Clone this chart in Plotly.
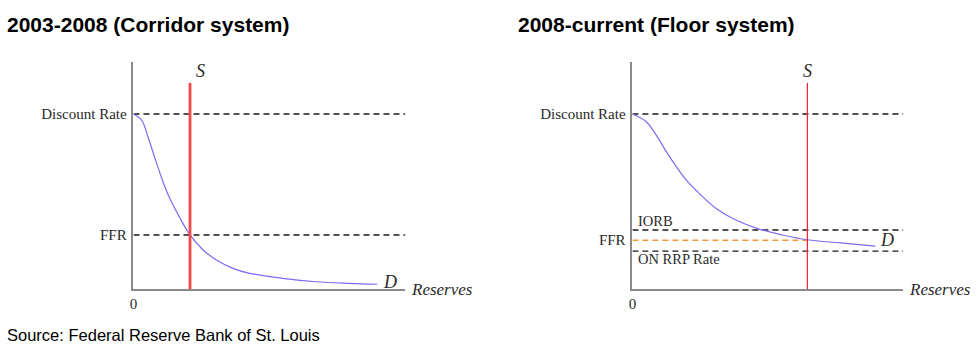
import plotly.graph_objects as go

# ---- data (arbitrary units: reserves on x, rate on y) ----
corr_demand_x = [0, 0.30, 0.55, 0.79, 1.04, 1.28, 1.65, 2.08, 2.56, 3.05, 3.66, 4.27, 5.49, 6.71, 7.94, 8.97]
corr_demand_y = [7.71, 7.44, 6.64, 5.76, 4.88, 4.14, 3.26, 2.38, 1.72, 1.28, 0.91, 0.69, 0.47, 0.32, 0.25, 0.21]
corr_supply = 2.08
corr_rates = {"Discount Rate": 7.71, "FFR": 2.38}

floor_demand_x = [0, 0.51, 0.88, 1.25, 1.62, 1.99, 2.47, 3.09, 3.82, 4.68, 5.54, 6.46, 7.68, 8.97]
floor_demand_y = [7.71, 7.37, 6.78, 6.05, 5.39, 4.80, 4.21, 3.55, 3.04, 2.64, 2.38, 2.17, 2.03, 1.89]
floor_supply = 6.46
floor_rates = {"Discount Rate": 7.71, "FFR": 2.15}
iorb = 2.60
on_rrp = 1.67

x_max = 10
supply_top = 9.07

W, H = 980, 358
def px(v):
    return v / W
def py(v):
    return 1 - v / H

SERIF = "Liberation Serif, Times New Roman, serif"
SANS = "Liberation Sans, Arial, sans-serif"
DASH_COLOR = "#1a1a1a"
DASH = "6px,4px"
CURVE_COLOR = "#7a6cf2"

fig = go.Figure()

def hline(y, x0, x1, xa, ya, color=DASH_COLOR):
    fig.add_trace(go.Scatter(x=[x0, x1], y=[y, y], mode="lines",
                             line=dict(color=color, width=1.4, dash=DASH),
                             xaxis=xa, yaxis=ya, showlegend=False, hoverinfo="skip"))

# ---------- left panel ----------
hline(corr_rates["Discount Rate"], 0, x_max, "x", "y")
hline(corr_rates["FFR"], 0, x_max, "x", "y")
fig.add_trace(go.Scatter(x=corr_demand_x, y=corr_demand_y, mode="lines",
                         line=dict(color=CURVE_COLOR, width=1.2, shape="spline", smoothing=1),
                         xaxis="x", yaxis="y", showlegend=False, hoverinfo="skip"))
fig.add_trace(go.Scatter(x=[corr_supply, corr_supply], y=[0, supply_top], mode="lines",
                         line=dict(color="#f24a4a", width=2.8),
                         xaxis="x", yaxis="y", showlegend=False, hoverinfo="skip"))

# ---------- right panel ----------
for yv in [floor_rates["Discount Rate"], iorb, on_rrp]:
    hline(yv, 0, x_max, "x2", "y2")
hline(floor_rates["FFR"], 0, floor_supply, "x2", "y2", color="#f5983a")
fig.add_trace(go.Scatter(x=floor_demand_x, y=floor_demand_y, mode="lines",
                         line=dict(color=CURVE_COLOR, width=1.2, shape="spline", smoothing=1),
                         xaxis="x2", yaxis="y2", showlegend=False, hoverinfo="skip"))
fig.add_trace(go.Scatter(x=[floor_supply, floor_supply], y=[0, supply_top], mode="lines",
                         line=dict(color="#ff1f30", width=1.2),
                         xaxis="x2", yaxis="y2", showlegend=False, hoverinfo="skip"))

axis_common = dict(showgrid=False, zeroline=False, showline=True, linecolor="#8a8a8a",
                   linewidth=1.6, ticks="outside", tickcolor="rgba(0,0,0,0)",
                   tickfont=dict(family=SERIF, size=15, color="#2a2a2a"),
                   fixedrange=True)
yd = [py(289), py(62)]
fig.update_layout(
    width=W, height=H, margin=dict(l=0, r=0, t=0, b=0),
    paper_bgcolor="white", plot_bgcolor="white",
    xaxis=dict(domain=[px(130), px(403)], range=[0, x_max], tickvals=[0], ticktext=["0"],
               anchor="y", ticklen=0, **axis_common),
    yaxis=dict(domain=yd, range=[0, 10], tickvals=list(corr_rates.values()),
               ticktext=list(corr_rates.keys()), anchor="x", ticklen=2, **axis_common),
    xaxis2=dict(domain=[px(631), px(903)], range=[0, x_max], tickvals=[0], ticktext=["0"],
                anchor="y2", ticklen=0, **axis_common),
    yaxis2=dict(domain=yd, range=[0, 10], tickvals=list(floor_rates.values()),
                ticktext=list(floor_rates.keys()), anchor="x2", ticklen=2, **axis_common),
)

def ann(text, x, y, xref, yref, size=15, italic=False, xanchor="center", family=SERIF,
        bold=False, color="#2a2a2a"):
    if italic:
        text = f"<i>{text}</i>"
    if bold:
        text = f"<b>{text}</b>"
    fig.add_annotation(text=text, x=x, y=y, xref=xref, yref=yref, showarrow=False,
                       xanchor=xanchor, yanchor="middle",
                       font=dict(family=family, size=size, color=color))

# left labels
ann("S", corr_supply + 0.4, 9.6, "x", "y", size=18, italic=True)
ann("D", 9.45, 0.31, "x", "y", size=18, italic=True)
ann("Reserves", (440 - 130) / 273, -0.004, "x domain", "y domain", size=17, italic=True)
# right labels
ann("S", floor_supply, 9.6, "x2", "y2", size=18, italic=True)
ann("D", 9.41, floor_rates["FFR"], "x2", "y2", size=18, italic=True)
ann("Reserves", (940 - 631) / 272, -0.004, "x2 domain", "y2 domain", size=17, italic=True)
ann("IORB", 0.15, 3.0, "x2", "y2", size=14.5, xanchor="left")
ann("ON RRP Rate", 0.15, 1.32, "x2", "y2", size=14.5, xanchor="left")

# titles and source
ann("2003-2008 (Corridor system)", px(1), py(24), "paper", "paper", size=21, xanchor="left",
    family=SANS, bold=True, color="black")
ann("2008-current (Floor system)", px(514), py(24), "paper", "paper", size=21, xanchor="left",
    family=SANS, bold=True, color="black")
ann("Source: Federal Reserve Bank of St. Louis", px(1), py(335), "paper", "paper", size=16.5,
    xanchor="left", family=SANS, color="black")

fig.write_html("out.html", config={"displayModeBar": False},
               post_script="document.body.style.margin='0';")
